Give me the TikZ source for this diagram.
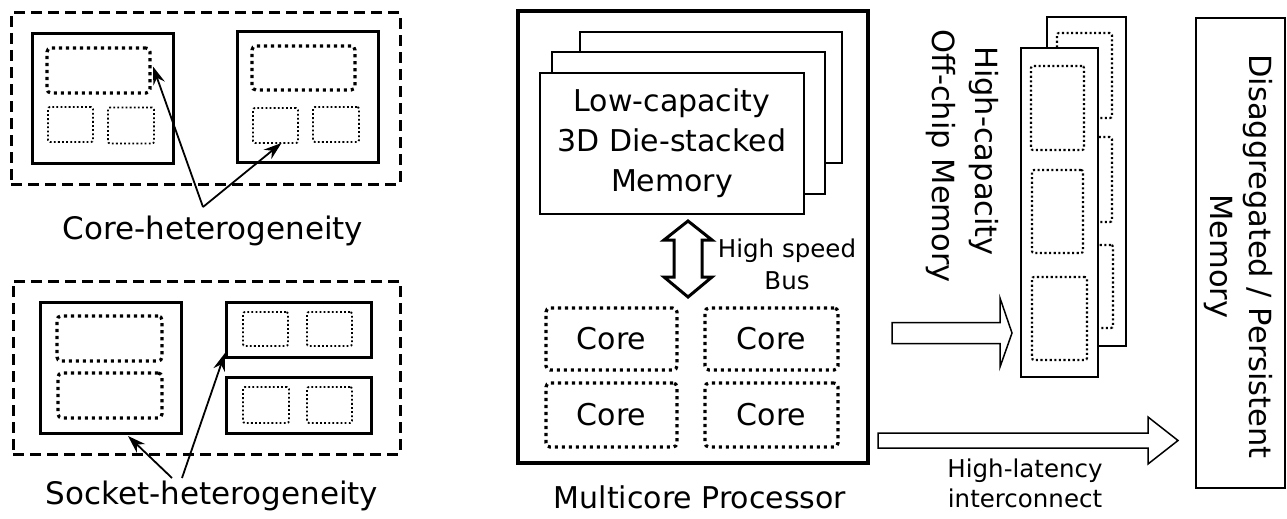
\documentclass[tikz,border=0pt]{standalone}
\usepackage{fontspec}
\setmainfont{DejaVu Sans}
\usetikzlibrary{arrows.meta,calc}

\tikzset{
  base/.style={inner sep=0pt, outer sep=0pt},
  sbox/.style={base, draw, line width=3pt},
  thickbox/.style={base, draw, line width=4.5pt},
  thinbox/.style={base, draw, line width=1.5pt, fill=white},
  dashbox/.style={base, draw, line width=3pt, dash pattern=on 11pt off 6pt},
  dotbig/.style={base, draw, line width=3.2pt, dash pattern=on 3.2pt off 3.8pt, rounded corners=4pt},
  dotsmall/.style={base, draw, line width=1.8pt, dash pattern=on 1.8pt off 2.3pt, rounded corners=2pt},
  dotmem/.style={dotsmall, line width=2.1pt, dash pattern=on 2.1pt off 2.5pt},
  big/.style={font=\fontsize{30}{40}\selectfont, align=center, inner sep=0pt},
  bigger/.style={font=\fontsize{31}{40}\selectfont, align=center, inner sep=0pt},
  small/.style={font=\fontsize{24.5}{30}\selectfont, align=center, inner sep=0pt},
  vlabel/.style={font=\fontsize{30.5}{40}\selectfont, inner sep=0pt, rotate=-90, anchor=base},
  pointer/.style={line width=1.8pt, -{Stealth[length=18pt,width=12pt]}},
  hollow/.style={draw, line width=1.5pt, fill=white, line join=miter},
}

\begin{document}
\begin{tikzpicture}[x=1pt, y=-1pt]
\useasboundingbox (0,0) rectangle (1287,519);

% ---------- core heterogeneity ----------
\node[dashbox, minimum width=389, minimum height=171] (dashTop) at (205.5,98.5) {};
\node[sbox, minimum width=141, minimum height=129] (boxA) at (102.5,98.5) {};
\node[dotbig, minimum width=103, minimum height=45] (Abig) at (98.5,70.5) {};
\node[dotsmall, minimum width=45, minimum height=35] (As1) at (70.5,124.5) {};
\node[dotsmall, minimum width=46, minimum height=36] (As2) at (131,125.5) {};
\node[sbox, minimum width=141, minimum height=130] (boxB) at (307.5,97) {};
\node[dotbig, minimum width=103, minimum height=44] (Bbig) at (303.5,68) {};
\node[dotsmall, minimum width=45, minimum height=35] (Bs1) at (275.5,125.5) {};
\node[dotsmall, minimum width=46, minimum height=35] (Bs2) at (336,124.5) {};
\node[bigger] (coreLbl) at (213,231) {Core-heterogeneity};
\coordinate (coreFoot) at (203,207);
\draw[pointer] (coreFoot) -- ($(Abig.east)+(3,-4)$);
\draw[pointer] (coreFoot) -- ($(Bs1.south)+(6,0)$);

% ---------- socket heterogeneity ----------
\node[dashbox, minimum width=387, minimum height=173] (dashBot) at (206.5,367.5) {};
\node[sbox, minimum width=141, minimum height=131] (boxC) at (110.5,367.5) {};
\node[dotbig, minimum width=105, minimum height=45] (Cbig1) at (109.5,338.5) {};
\node[dotbig, minimum width=104, minimum height=45] (Cbig2) at (110,395.5) {};
\node[sbox, minimum width=145, minimum height=55] (boxD1) at (298.5,329.5) {};
\node[dotsmall, minimum width=45, minimum height=34] (D1s1) at (265.5,329) {};
\node[dotsmall, minimum width=45, minimum height=34] (D1s2) at (329.5,329) {};
\node[sbox, minimum width=145, minimum height=56] (boxD2) at (298.5,405) {};
\node[dotsmall, minimum width=46, minimum height=36] (D2s1) at (266,405) {};
\node[dotsmall, minimum width=45, minimum height=36] (D2s2) at (329.5,405) {};
\node[bigger] (sockLbl) at (212,496) {Socket-heterogeneity};
\coordinate (sockFootL) at (172,478);
\coordinate (sockFootR) at (182,478);
\draw[pointer] (sockFootL) -- ($(boxC.south)+(17.5,3)$);
\draw[pointer] (sockFootR) -- ($(boxD1.south west)+(-1,-4)$);

% ---------- multicore processor ----------
\node[thickbox, minimum width=350, minimum height=452] (proc) at (693,237) {};
\node[thinbox, minimum width=262, minimum height=131] (memBack) at (711,97.5) {};
\node[thinbox, minimum width=273, minimum height=142] (memMid) at (688.5,123) {};
\node[thinbox, minimum width=264, minimum height=141, big] (memFront) at (672,143.5)
  {Low-capacity\\3D Die-stacked\\Memory};

% high speed bus (double hollow arrow)
\draw[line width=3pt, line join=miter]
  (688,221) -- (712,240) -- (702,240) -- (702,277) -- (712,277) -- (688,297)
  -- (664,277) -- (674,277) -- (674,240) -- (664,240) -- cycle;
\node[small, font=\fontsize{24.5}{32}\selectfont] (busLbl) at (787,264) {High speed\\Bus};

\node[dotbig, minimum width=131, minimum height=62, big] (core1) at (611.5,339) {Core};
\node[dotbig, minimum width=133, minimum height=62, big] (core2) at (771.5,339) {Core};
\node[dotbig, minimum width=131, minimum height=64, big] (core3) at (611.5,415) {Core};
\node[dotbig, minimum width=133, minimum height=64, big] (core4) at (771.5,415) {Core};
\node[big] (procLbl) at (700,497) {Multicore Processor};

% ---------- off-chip memory ----------
\node[thinbox, minimum width=79, minimum height=329] (offBack) at (1086.5,181.5) {};
\node[dotmem, minimum width=55, minimum height=85] (ob1) at (1084.5,75.5) {};
\node[dotmem, minimum width=55, minimum height=85] (ob2) at (1084.5,179.5) {};
\node[dotmem, minimum width=56, minimum height=83] (ob3) at (1085,286.5) {};
\node[thinbox, minimum width=77, minimum height=329] (offFront) at (1059.5,212.5) {};
\node[dotmem, minimum width=53, minimum height=84] (of1) at (1057.5,108) {};
\node[dotmem, minimum width=51, minimum height=83] (of2) at (1057.5,211.5) {};
\node[dotmem, minimum width=55, minimum height=83] (of3) at (1059.5,318.5) {};
\node[vlabel] (offLbl1) at (975,151) {High-capacity};
\node[vlabel] (offLbl2) at (932,156) {Off-chip Memory};

% processor -> off-chip memory
\draw[hollow] (892,322.5) -- (1000,322.5) -- (1000,298) -- (1012,333) -- (1000,367)
  -- (1000,343.5) -- (892,343.5) -- cycle;

% ---------- disaggregated memory ----------
\node[thinbox, minimum width=89, minimum height=470] (disagg) at (1240.5,253) {};
\node[vlabel] (disLbl1) at (1249,256.5) {Disaggregated / Persistent};
\node[vlabel] (disLbl2) at (1210,256.5) {Memory};

% processor -> disaggregated memory
\draw[hollow] (878,433) -- (1148,433) -- (1148,417) -- (1178,440.5) -- (1148,464)
  -- (1148,448) -- (878,448) -- cycle;
\node[small] (latLbl) at (1025,483) {High-latency\\interconnect};

\end{tikzpicture}
\end{document}
